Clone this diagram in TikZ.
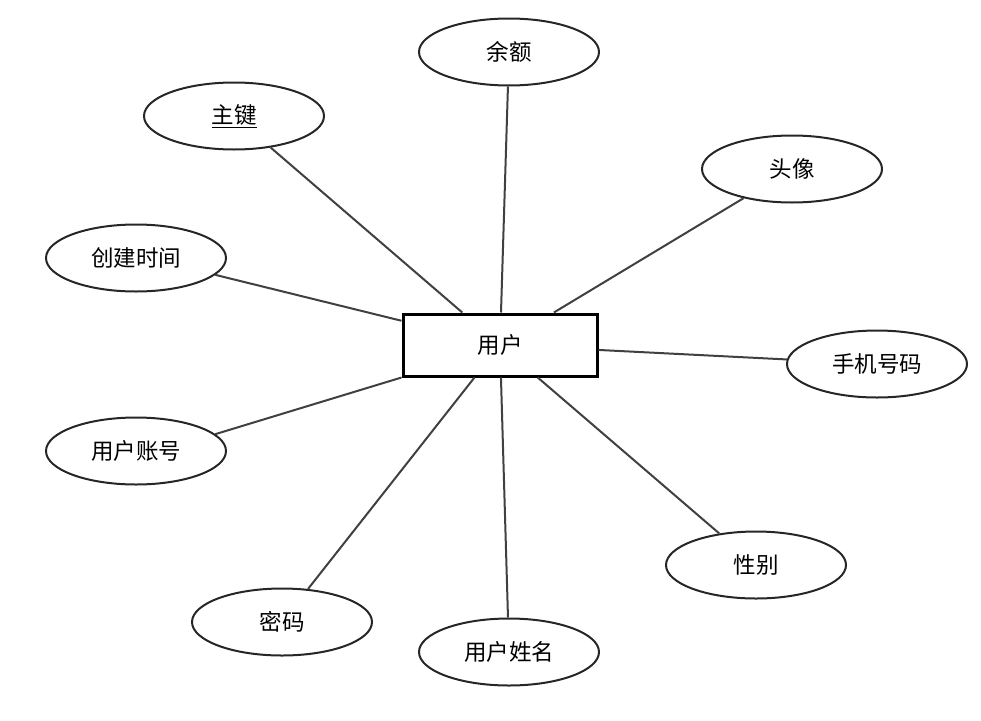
\documentclass[tikz,border=0pt]{standalone}
\usepackage{fontspec}
\setmainfont{Noto Sans CJK SC}
\usetikzlibrary{shapes.geometric}

\begin{document}
\begin{tikzpicture}[
    x=1pt, y=-1pt,
    font=\fontsize{22.5pt}{26pt}\selectfont,
    entity/.style={draw, line width=3pt, minimum width=194pt, minimum height=62pt, inner sep=0pt},
    attr/.style={draw, ellipse, line width=2pt, color=black!85, text=black, minimum width=180pt, minimum height=67pt, inner sep=0pt},
    line/.style={line width=2pt, color=black!75}
]
    \useasboundingbox (0,0) rectangle (981,720);

    \node[entity] (user) at (500,345) {用户};

    \node[attr] (balance) at (509,52) {余额};
    \node[attr] (key) at (234,116) {\underline{主键}};
    \node[attr] (avatar) at (792,169) {头像};
    \node[attr] (created) at (136,258) {创建时间};
    \node[attr] (phone) at (877,364) {手机号码};
    \node[attr] (account) at (136,451) {用户账号};
    \node[attr] (gender) at (756,565) {性别};
    \node[attr] (password) at (282,622) {密码};
    \node[attr] (realname) at (509,652) {用户姓名};

    \draw[line] (balance) -- (user);
    \draw[line] (key) -- (user);
    \draw[line] (avatar) -- (user);
    \draw[line] (created.-12) -- (user);
    \draw[line] (phone) -- (user);
    \draw[line] (account.12) -- (user.south west);
    \draw[line] (gender) -- (user);
    \draw[line] (password) -- (user);
    \draw[line] (realname) -- (user);
\end{tikzpicture}
\end{document}
